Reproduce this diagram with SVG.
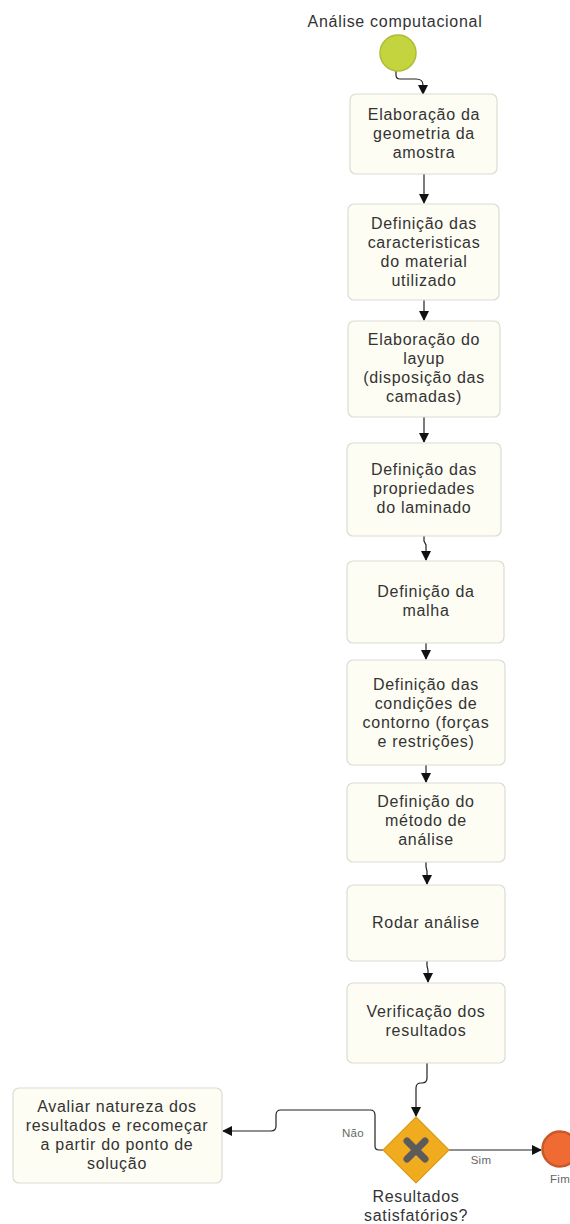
<svg xmlns="http://www.w3.org/2000/svg" width="570" height="1224" viewBox="0 0 570 1224">
<defs>
<marker id="arr" markerWidth="10" markerHeight="10" refX="9" refY="5" orient="auto" markerUnits="userSpaceOnUse">
<path d="M0,0 L10,5 L0,10 Z" fill="#111"/>
</marker>
<style>
.box{fill:#fdfdf4;stroke:#dcdcd4;stroke-width:1.2}
.t{font-family:"Liberation Sans",Arial,sans-serif;font-size:16px;letter-spacing:0.7px;fill:#333;text-anchor:middle}
.lbl{font-family:"Liberation Sans",Arial,sans-serif;font-size:11.5px;letter-spacing:0.3px;fill:#666;text-anchor:middle}
.c{fill:none;stroke:#222;stroke-width:1.2;marker-end:url(#arr)}
</style>
</defs>
<rect width="570" height="1224" fill="#fff"/>
<g id="connectors">
<path class="c" d="M396,71 V75 Q396,79 400,79 H416 Q423,79 423,85 V94"/>
<path class="c" d="M424,174 V203"/>
<path class="c" d="M424,300 V320"/>
<path class="c" d="M424,417 V442"/>
<path class="c" d="M424,536 V541 L426,545 V560"/>
<path class="c" d="M426,643 V659"/>
<path class="c" d="M426,765 V782"/>
<path class="c" d="M426,862 V867 L427,871 V884"/>
<path class="c" d="M427,961 V966 L428,970 V982"/>
<path class="c" d="M427,1063 V1078 Q427,1083 422,1083 H421 Q416,1083 416,1088 V1116"/>
<path class="c" d="M383,1150 H379 Q375,1150 375,1146 V1115 Q375,1110 370,1110 H281 Q276,1110 276,1115 V1126 Q276,1131 271,1131 H223"/>
<path class="c" d="M449,1150 H541"/>
</g>
<g id="start">
<text class="t" x="395" y="27">Análise computacional</text>
<circle cx="398" cy="53" r="18" fill="#c3d43e" stroke="#aebd35" stroke-width="1.5"/>
</g>
<g id="n1"><rect class="box" x="350" y="94" width="147" height="80" rx="6"/>
<text class="t" x="424" y="120">Elaboração da</text><text class="t" x="424" y="139">geometria da</text><text class="t" x="424" y="158">amostra</text></g>
<g id="n2"><rect class="box" x="348" y="204" width="151" height="96" rx="6"/>
<text class="t" x="424" y="229">Definição das</text><text class="t" x="424" y="248">caracteristicas</text><text class="t" x="424" y="267">do material</text><text class="t" x="424" y="286">utilizado</text></g>
<g id="n3"><rect class="box" x="348" y="321" width="152" height="96" rx="6"/>
<text class="t" x="424" y="345">Elaboração do</text><text class="t" x="424" y="364">layup</text><text class="t" x="424" y="383">(disposição das</text><text class="t" x="424" y="402">camadas)</text></g>
<g id="n4"><rect class="box" x="347" y="443" width="154" height="93" rx="6"/>
<text class="t" x="424" y="475">Definição das</text><text class="t" x="424" y="494">propriedades</text><text class="t" x="424" y="513">do laminado</text></g>
<g id="n5"><rect class="box" x="347" y="561" width="157" height="82" rx="6"/>
<text class="t" x="426" y="597">Definição da</text><text class="t" x="426" y="616">malha</text></g>
<g id="n6"><rect class="box" x="347" y="660" width="158" height="105" rx="6"/>
<text class="t" x="426" y="690">Definição das</text><text class="t" x="426" y="709">condições de</text><text class="t" x="426" y="728">contorno (forças</text><text class="t" x="426" y="747">e restrições)</text></g>
<g id="n7"><rect class="box" x="347" y="783" width="158" height="79" rx="6"/>
<text class="t" x="426" y="807">Definição do</text><text class="t" x="426" y="826">método de</text><text class="t" x="426" y="845">análise</text></g>
<g id="n8"><rect class="box" x="347" y="885" width="158" height="76" rx="6"/>
<text class="t" x="426" y="928">Rodar análise</text></g>
<g id="n9"><rect class="box" x="347" y="983" width="158" height="80" rx="6"/>
<text class="t" x="426" y="1017">Verificação dos</text><text class="t" x="426" y="1036">resultados</text></g>
<g id="n10"><rect class="box" x="13" y="1088" width="209" height="95" rx="6"/>
<text class="t" x="117" y="1112">Avaliar natureza dos</text><text class="t" x="117" y="1131">resultados e recomeçar</text><text class="t" x="117" y="1150">a partir do ponto de</text><text class="t" x="117" y="1169">solução</text></g>
<g id="gateway">
<path d="M416,1117 L449,1150 L416,1183 L383,1150 Z" fill="#f1ab1e" stroke="#dc9b18" stroke-width="1.2"/>
<path d="M407,1141 L425,1159 M425,1141 L407,1159" stroke="#5b5b5b" stroke-width="7" stroke-linecap="round"/>
<text class="t" x="416" y="1202">Resultados</text><text class="t" x="416" y="1221">satisfatórios?</text>
</g>
<text class="lbl" x="353" y="1137">Não</text>
<text class="lbl" x="481" y="1164">Sim</text>
<g id="end">
<circle cx="560" cy="1149" r="17.5" fill="#f06b33" stroke="#c9582a" stroke-width="2.5"/>
<text class="lbl" x="560" y="1183">Fim</text>
</g>
</svg>
